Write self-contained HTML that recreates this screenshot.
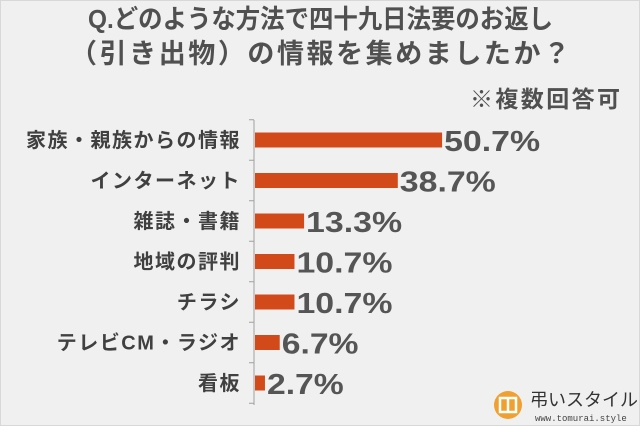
<!DOCTYPE html>
<html><head><meta charset="utf-8"><style>
body{margin:0;width:640px;height:426px;overflow:hidden;background:#efefef;font-family:"Liberation Sans","Noto Sans CJK JP",sans-serif;}
</style></head><body>
<svg width="640" height="426" style="position:absolute;left:0;top:0">
<rect x="0.5" y="0.5" width="639" height="425" fill="#f0f0f0" stroke="#d8d8d8"/>
<text x="88" y="28" textLength="465" lengthAdjust="spacingAndGlyphs" font-size="26" font-weight="bold" fill="#505050">Q.どのような方法で四十九日法要のお返し</text>
<text x="70" y="63" textLength="500" lengthAdjust="spacing" font-size="27" font-weight="bold" fill="#505050">（引き出物）の情報を集めましたか？</text>
<text x="470" y="107" textLength="150" lengthAdjust="spacing" font-size="23" font-weight="bold" fill="#505050">※複数回答可</text>
<g id="plot"></g>
<g>
<circle cx="508" cy="405" r="14" fill="#f0a030"/>
<rect x="500" y="398" width="16" height="14" fill="none" stroke="#fff" stroke-width="2.5"/>
<line x1="508" y1="398" x2="508" y2="412" stroke="#fff" stroke-width="2.5"/>
<text x="530" y="406" font-size="18" fill="#333">弔いスタイル</text>
<text x="535" y="421" font-size="9" font-family="Liberation Mono, monospace" fill="#444">www.tomurai.style</text>
</g>
</svg>
<script>
const categories=["家族・親族からの情報","インターネット","雑誌・書籍","地域の評判","チラシ","テレビCM・ラジオ","看板"];
const values=[50.7,38.7,13.3,10.7,10.7,6.7,2.7];
const labels=["50.7%","38.7%","13.3%","10.7%","10.7%","6.7%","2.7%"];
const NS="http://www.w3.org/2000/svg";
const g=document.getElementById('plot');
const x0=255,scale=3.69,y0=140,step=40.5,bh=15;
const xs=v=>x0+v*scale, ys=i=>y0+i*step;
function mk(t,a){const e=document.createElementNS(NS,t);for(const k in a)e.setAttribute(k,a[k]);g.appendChild(e);return e;}
const ax=mk('line',{x1:254,y1:120,x2:254,y2:405,stroke:'#a0a0a0','stroke-width':1});


for(let i=0;i<=categories.length;i++){const ty=ys(i)-step/2;const t=mk('line',{x1:249,y1:ty,x2:254,y2:ty,stroke:'#a0a0a0'});

}
categories.forEach((c,i)=>{
const y=ys(i);
const r=mk('rect',{x:x0,y:y-bh/2,width:xs(values[i])-x0,height:bh,fill:'#d24a1a'});


const l=mk('text',{x:241,y:y+7,'text-anchor':'end','font-size':20,'letter-spacing':1.5,'font-weight':'bold',fill:'#404040'});l.textContent=c;


const s=labels[i];
const v=mk('text',{x:xs(values[i])+2,y:y+11,'font-size':29,'font-weight':'bold',fill:'#555',textLength:s.length*19.2,lengthAdjust:'spacingAndGlyphs'});v.textContent=s;


});
</script>
</body></html>
